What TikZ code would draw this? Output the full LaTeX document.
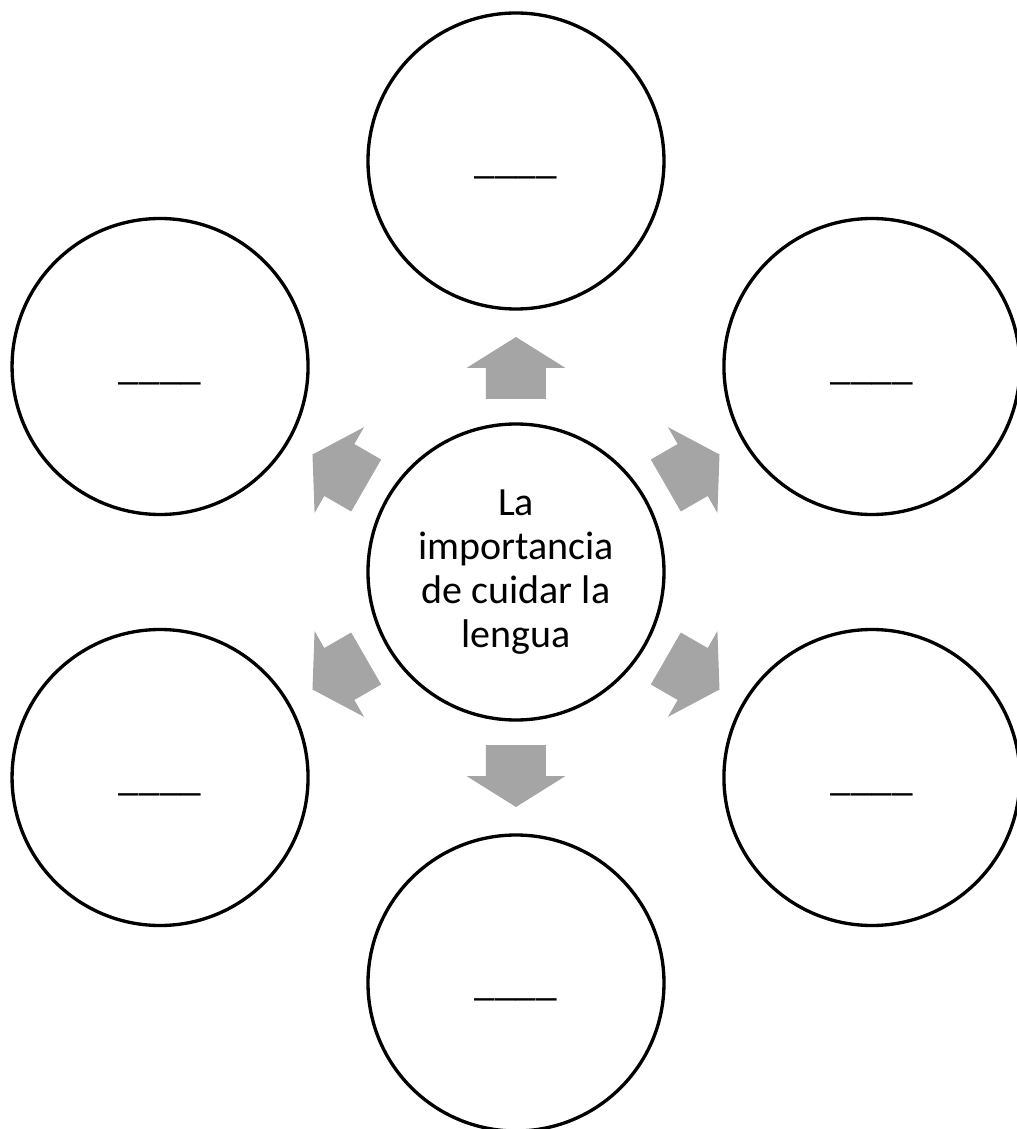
\documentclass[tikz,border=0pt]{standalone}
\usepackage{fontspec}
\setmainfont{Carlito}
\definecolor{arrowgray}{HTML}{A5A5A5}

\begin{document}
\begin{tikzpicture}[x=0.75pt,y=0.75pt,
  bubble/.style={draw, circle, line width=2.5pt, minimum size=222pt, inner sep=0pt,
    font=\fontsize{30}{33}\selectfont, align=center},
  blank/.style={bubble, font=\fontsize{31}{33}\selectfont, text height=25pt, text depth=6pt}]
\useasboundingbox (-516,-557) rectangle (501,572);

\node[bubble] (C0) at (0,0) {La\\importancia\\de cuidar la\\lengua};
\node[blank] (C1) at (90:411) {\_\_\_\_};
\node[blank] (C2) at (30:411) {\_\_\_\_};
\node[blank] (C3) at (-30:411) {\_\_\_\_};
\node[blank] (C4) at (-90:411) {\_\_\_\_};
\node[blank] (C5) at (-150:411) {\_\_\_\_};
\node[blank] (C6) at (150:411) {\_\_\_\_};

\foreach \a in {90,30,-30,-90,-150,150}
  \fill[arrowgray, rotate=\a] (173,-30) -- (204,-30) -- (204,-49.5) -- (235,0)
    -- (204,49.5) -- (204,30) -- (173,30) -- cycle;

\end{tikzpicture}
\end{document}
